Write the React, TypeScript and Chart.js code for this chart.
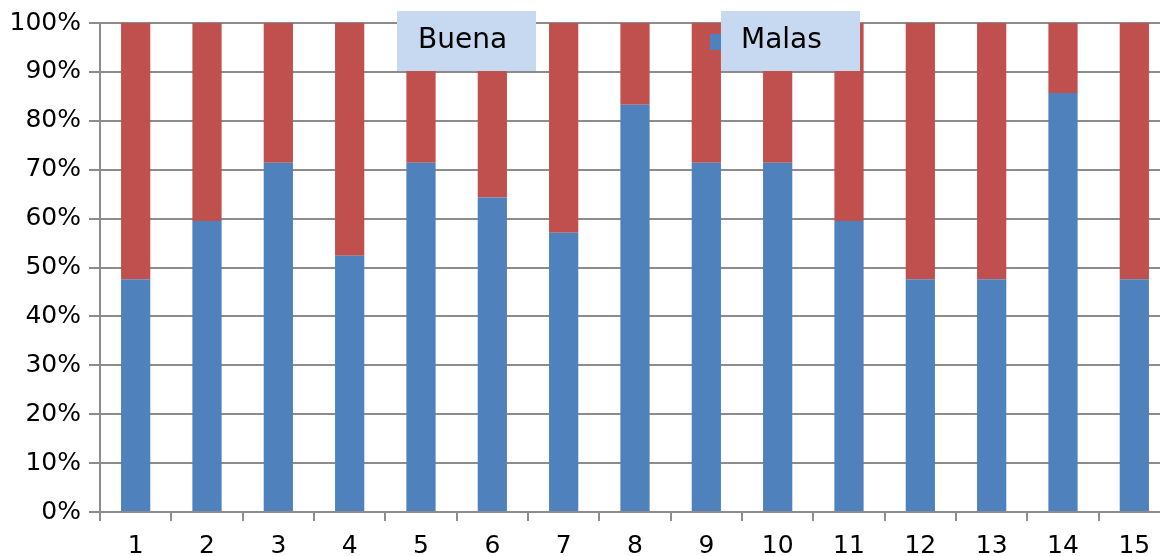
import React, { useEffect, useRef } from "react";
import { Chart, registerables } from "chart.js";

Chart.register(...registerables);

const categories = ["1", "2", "3", "4", "5", "6", "7", "8", "9", "10", "11", "12", "13", "14", "15"];
const buena = [47.6, 59.5, 71.4, 52.4, 71.4, 64.3, 57.1, 83.3, 71.4, 71.4, 59.5, 47.6, 47.6, 85.7, 47.6];
const malas = [52.4, 40.5, 28.6, 47.6, 28.6, 35.7, 42.9, 16.7, 28.6, 28.6, 40.5, 52.4, 52.4, 14.3, 52.4];
const yTicks = [0, 10, 20, 30, 40, 50, 60, 70, 80, 90, 100];

const BLUE = "#4F81BD";
const RED = "#C0504D";
const GRID = "#8c8c8c";
const FONT = "'DejaVu Sans', sans-serif";

const legendPlugin = {
  id: "oddLegend",
  afterDraw(chart: any) {
    const ctx = chart.ctx;
    ctx.save();
    // marker peeking from behind the second box
    ctx.fillStyle = BLUE;
    ctx.fillRect(710, 34, 16, 16);
    const boxes = [
      { x: 397, label: chart.data.datasets[0].label, tx: 418 },
      { x: 721, label: chart.data.datasets[1].label, tx: 741 },
    ];
    ctx.font = `28px ${FONT}`;
    ctx.textBaseline = "middle";
    ctx.textAlign = "left";
    for (const b of boxes) {
      ctx.fillStyle = "#C6D9F1";
      ctx.fillRect(b.x, 11, 139, 60);
      ctx.fillStyle = "#000";
      ctx.fillText(b.label, b.tx, 41);
    }
    ctx.restore();
  },
};

export default function App() {
  const ref = useRef<HTMLCanvasElement | null>(null);
  useEffect(() => {
    if (!ref.current) return;
    const chart = new Chart(ref.current, {
      type: "bar",
      data: {
        labels: categories,
        datasets: [
          { label: "Buena", data: buena, backgroundColor: BLUE, barPercentage: 1, categoryPercentage: 0.41 },
          { label: "Malas", data: malas, backgroundColor: RED, barPercentage: 1, categoryPercentage: 0.41 },
        ],
      },
      options: {
        responsive: false,
        animation: false,
        layout: { padding: { top: 23, left: 0, right: 2, bottom: 0 } },
        plugins: { legend: { display: false }, tooltip: { enabled: false } },
        scales: {
          x: {
            stacked: true,
            offset: true,
            grid: { drawOnChartArea: false, color: GRID, lineWidth: 2, tickLength: 9, offset: true },
            border: { color: GRID, width: 2 },
            ticks: { color: "#000", font: { family: FONT, size: 25 }, padding: 10, maxRotation: 0 },
            afterFit: (s: any) => { s.height = 44; },
          },
          y: {
            stacked: true,
            min: 0,
            max: 100,
            afterBuildTicks: (s: any) => { s.ticks = yTicks.map((v) => ({ value: v })); },
            grid: { color: GRID, lineWidth: 2, tickLength: 11 },
            border: { color: GRID, width: 2 },
            ticks: {
              color: "#000",
              font: { family: FONT, size: 25 },
              padding: 8,
              callback: (v: any) => `${v}%`,
            },
            afterFit: (s: any) => { s.width = 100; },
          },
        },
      },
      plugins: [legendPlugin],
    });
    return () => chart.destroy();
  }, []);
  return (
    <div style={{ position: "absolute", left: 0, top: 0, width: 1160, height: 556, overflow: "hidden", background: "#fff" }}>
      <canvas ref={ref} width={1172} height={556} style={{ display: "block" }} />
    </div>
  );
}
